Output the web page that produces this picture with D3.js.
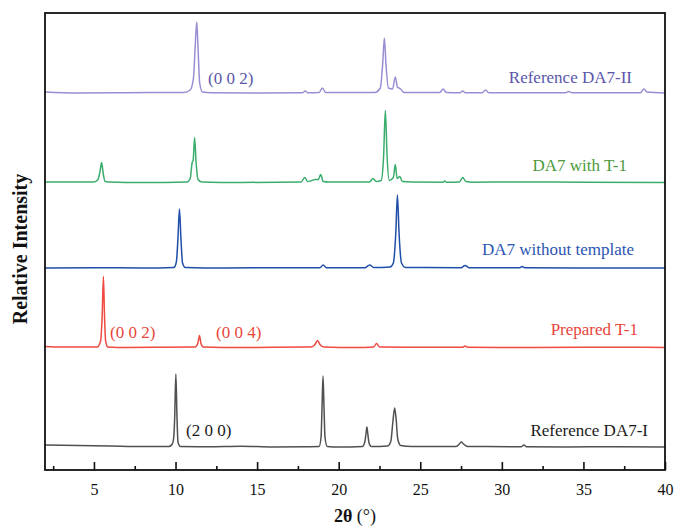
<!DOCTYPE html>
<html>
<head>
<meta charset="utf-8">
<script src="https://cdn.jsdelivr.net/npm/d3@7"></script>
<style>
    body { margin: 0; background: #fff; }
    svg { display: block; font-family: "Liberation Serif", "Times New Roman", serif; }
</style>
</head>
<body>
<div id="chart"></div>
<script>
// 2θ tick values on the bottom axis
var majorTicks = [5, 10, 15, 20, 25, 30, 35, 40];
var minorTicks = [2.5, 7.5, 12.5, 17.5, 22.5, 27.5, 32.5, 37.5];

// Pattern names (bottom to top) and vertical offsets of each baseline
var seriesNames = ["Reference DA7-I", "Prepared T-1", "DA7 without template", "DA7 with T-1", "Reference DA7-II"];
var seriesOffsets = [23, 122.5, 202, 287.5, 377];

// [2θ, intensity], one list per pattern
var refDA7I = [[2, 2], [4, 1.5], [6, 1], [8, 0.5], [9.6, 0.5], [9.8, 3], [9.88, 8], [9.95, 30], [10.02, 73], [10.09, 30], [10.15, 5], [10.3, 0.5],
    [12, 0.3], [14, 0.8], [16, 0], [18, 0.3], [18.8, 0.5], [18.92, 10], [18.98, 40], [19.04, 71], [19.1, 40], [19.16, 10], [19.3, 0.5],
    [20, 0], [21.45, 0.5], [21.6, 5], [21.68, 14], [21.73, 20], [21.78, 14], [21.86, 4], [22, 0.5], [23, 1], [23.2, 6], [23.32, 25],
    [23.43, 39], [23.52, 28], [23.62, 8], [23.8, 1.5], [24.5, 0.5], [27.2, 0.5], [27.4, 3], [27.52, 5], [27.65, 3], [27.9, 0.5],
    [31.2, 0.3], [31.35, 2], [31.5, 0.3], [34, 0], [37, 0.3], [40, 0]];

var preparedT1 = [[2, 1], [3, 0.5], [4.5, 0.5], [5.2, 0.5], [5.4, 6], [5.5, 30], [5.58, 71], [5.65, 30], [5.72, 6], [5.85, 0.5], [7, 0],
    [9, 0.3], [11.2, 0.5], [11.38, 5], [11.47, 12], [11.56, 4], [11.7, 0.5], [14, 0], [16, 0.3], [18.3, 0.5], [18.55, 3], [18.7, 7],
    [18.85, 3], [19.1, 0.5], [21, 0], [22.15, 0.5], [22.32, 4], [22.5, 0.5], [24.5, 0.3], [27.6, 0.3], [27.75, 1.5], [27.9, 0.3],
    [32, 0], [36, 0.3], [40, 0]];

var da7NoTemplate = [[2, 0], [5, 0.3], [8, 0], [9.9, 0.5], [10.05, 6], [10.15, 30], [10.24, 59], [10.33, 30], [10.43, 5], [10.6, 0.5],
    [13, 0], [16, 0.3], [18.85, 0.3], [19.05, 3], [19.25, 0.3], [21.6, 0.3], [21.9, 3], [22.15, 0.5], [23.15, 1], [23.35, 5],
    [23.5, 35], [23.6, 73], [23.7, 35], [23.85, 5], [24.1, 0.5], [27.5, 0.3], [27.75, 2.5], [28, 0.3], [31.1, 0.3], [31.25, 1.5],
    [31.4, 0.3], [35, 0], [40, 0]];

var da7WithT1 = [[2, 0.5], [3, 0.5], [5, 0.5], [5.25, 3], [5.38, 12], [5.47, 20], [5.56, 10], [5.68, 1], [5.9, 0.5], [8, 0],
    [10.7, 0.5], [10.9, 4], [11.02, 20], [11.08, 22], [11.17, 45], [11.26, 20], [11.38, 3], [11.6, 0.5], [14, 0], [17.7, 0.5],
    [17.92, 5], [18.1, 1], [18.35, 2], [18.55, 3], [18.75, 3], [18.9, 8], [19.05, 1], [19.4, 0.5], [21.9, 0.5], [22.1, 4], [22.3, 1],
    [22.6, 2], [22.75, 25], [22.86, 72], [22.97, 25], [23.1, 2], [23.35, 5], [23.47, 18], [23.58, 4], [23.75, 6], [23.9, 1],
    [24.5, 0.5], [26.4, 0.3], [26.5, 1.5], [26.6, 0.3], [27.4, 0.5], [27.6, 5], [27.8, 1], [28.2, 0.3], [31, 0.5], [35, 0.3], [40, 0]];

var refDA7II = [[2, 1], [4, 0], [7, 0.3], [10.5, 0.5], [10.9, 3], [11.1, 15], [11.2, 45], [11.3, 71], [11.38, 45], [11.48, 10],
    [11.65, 1], [12.2, 0.3], [15, 0], [17.8, 0.3], [17.95, 2], [18.1, 0.3], [18.8, 0.5], [19, 5], [19.2, 0.5], [22.2, 0.5],
    [22.55, 5], [22.7, 30], [22.8, 55], [22.9, 28], [23.05, 5], [23.3, 4], [23.47, 16], [23.6, 6], [23.8, 4], [24, 0.5],
    [26.2, 0.5], [26.4, 4], [26.6, 0.5], [27.45, 0.3], [27.6, 2], [27.75, 0.3], [28.8, 0.3], [29, 3], [29.2, 0.3],
    [33.9, 0.3], [34.1, 1.5], [34.3, 0.3], [38.5, 0.3], [38.7, 4], [38.9, 1], [40, 0]];

var seriesData = [refDA7I, preparedT1, da7NoTemplate, da7WithT1, refDA7II];

// Styling for each pattern: line colour, label colour, label position
var lineColors = ["#505050", "#ee4a40", "#1f4fa8", "#3aad6c", "#9a8ed2"];
var labelColors = ["#1a1a1a", "#e8453b", "#2a56b2", "#4c9a3a", "#5a56aa"];
var labelPos = [[648, 436], [638, 335], [634, 255], [627, 171], [632, 83]];

// Miller index annotations
var peakNotes = [
    { text: "(2 0 0)", x: 186, y: 436, color: "#1a1a1a" },
    { text: "(0 0 2)", x: 110, y: 338, color: "#e8453b" },
    { text: "(0 0 4)", x: 216, y: 338, color: "#e8453b" },
    { text: "(0 0 2)", x: 208, y: 84, color: "#5a56aa" }
];

var width = 676, height = 526;
var margin = { top: 13, right: 11, bottom: 56, left: 45 };

var svg = d3.select("#chart")
    .append("svg")
    .attr("width", width)
    .attr("height", height);

var x = d3.scaleLinear().domain([2, 40]).range([margin.left, width - margin.right]);
var y = d3.scaleLinear().domain([0, 457]).range([height - margin.bottom, margin.top]);

// Draw the patterns
seriesData.forEach(function (data, i) {
    var line = d3.line()
        .x(function (d) { return x(d[0]); })
        .y(function (d) { return y(d[1] + seriesOffsets[i]); })
        .curve(d3.curveMonotoneX);

    svg.append("path")
        .datum(data)
        .attr("fill", "none")
        .attr("stroke", lineColors[i])
        .attr("stroke-width", 1.5)
        .attr("stroke-linejoin", "round")
        .attr("d", line);

    svg.append("text")
        .attr("x", labelPos[i][0])
        .attr("y", labelPos[i][1])
        .attr("text-anchor", "end")
        .attr("fill", labelColors[i])
        .style("font-size", "17px")
        .text(seriesNames[i]);
});

svg.selectAll(".note")
    .data(peakNotes)
    .enter()
    .append("text")
    .attr("class", "note")
    .attr("x", function (d) { return d.x; })
    .attr("y", function (d) { return d.y; })
    .attr("fill", function (d) { return d.color; })
    .style("font-size", "17px")
    .text(function (d) { return d.text; });

// Bottom axis with inward ticks
var xAxis = svg.append("g")
    .attr("transform", "translate(0," + y(0) + ")")
    .call(d3.axisBottom(x).tickValues(majorTicks).tickSize(-8).tickPadding(14).tickFormat(d3.format("d")));
xAxis.select(".domain").remove();
xAxis.selectAll("line").attr("stroke", "#111").attr("stroke-width", 1.6);
xAxis.selectAll("text").style("font-size", "16px").style("font-family", "Liberation Serif").attr("fill", "#111");

var xMinor = svg.append("g")
    .attr("transform", "translate(0," + y(0) + ")")
    .call(d3.axisBottom(x).tickValues(minorTicks).tickSize(-4).tickFormat(""));
xMinor.select(".domain").remove();
xMinor.selectAll("line").attr("stroke", "#111").attr("stroke-width", 1.6);

// Frame
svg.append("rect")
    .attr("x", x(2))
    .attr("y", y(457))
    .attr("width", x(40) - x(2))
    .attr("height", y(0) - y(457))
    .attr("fill", "none")
    .attr("stroke", "#111")
    .attr("stroke-width", 1.8);

// Axis titles
var xTitle = svg.append("text")
    .attr("x", (x(2) + x(40)) / 2)
    .attr("y", 522)
    .attr("text-anchor", "middle")
    .style("font-size", "18px")
    .attr("fill", "#111");
xTitle.append("tspan").style("font-weight", "bold").text("2θ");
xTitle.append("tspan").text(" (°)");

svg.append("text")
    .attr("transform", "translate(27," + 249 + ") rotate(-90)")
    .attr("text-anchor", "middle")
    .style("font-size", "20px")
    .style("font-weight", "bold")
    .attr("fill", "#111")
    .text("Relative Intensity");
</script>
</body>
</html>
